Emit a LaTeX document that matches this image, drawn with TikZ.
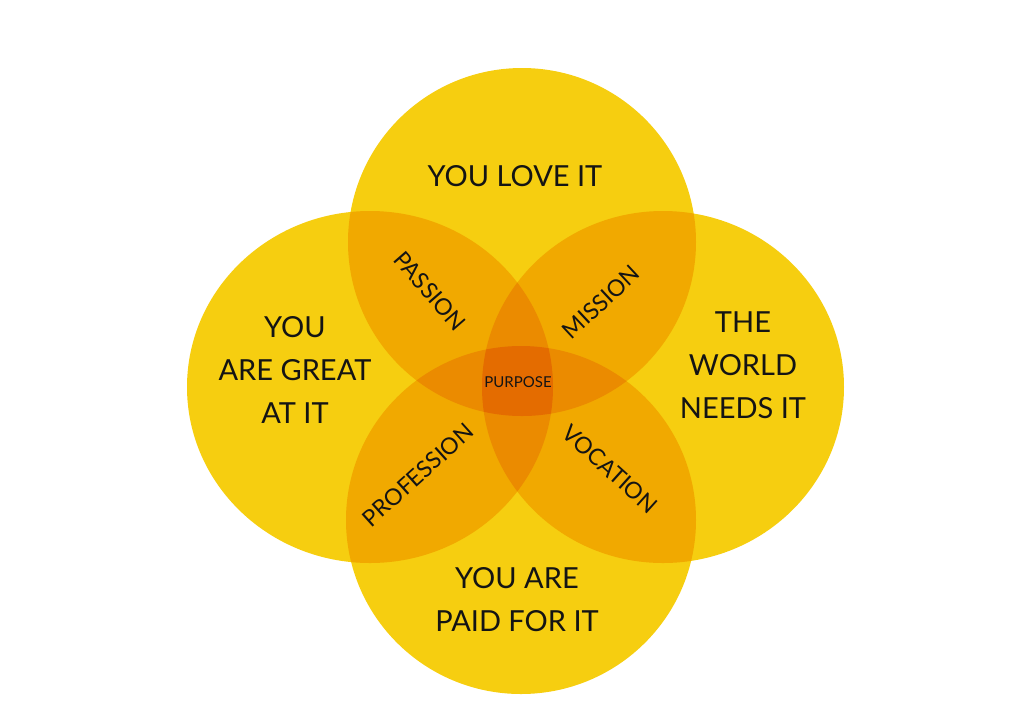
\documentclass[tikz,border=0pt]{standalone}
\usepackage{fontspec}
\setmainfont{Lato}
\usetikzlibrary{positioning}
\definecolor{sun}{HTML}{F6CE10}
\definecolor{amber}{HTML}{F1A900}
\definecolor{tangerine}{HTML}{EB8B00}
\definecolor{ember}{HTML}{E46C00}
\tikzset{bigword/.style={font=\fontsize{14.5}{21.5}\selectfont,align=center,inner sep=0pt,text=black!92},
  lensword/.style={font=\fontsize{11.5}{13}\selectfont,inner sep=0pt,text=black!92},
  coreword/.style={font=\fontsize{7.5}{9}\selectfont,inner sep=0pt,text=black!92}}
\begin{document}
\begin{tikzpicture}[x=0.5pt,y=-0.5pt]
\useasboundingbox (0,0) rectangle (1024,720);
\coordinate (T) at (522,242); \coordinate (L) at (370,387);
\coordinate (R) at (663,387); \coordinate (B) at (521,520);
\def\lobeT{(T) ellipse [x radius=174,y radius=174]}
\def\lobeL{(L) ellipse [x radius=183,y radius=176]}
\def\lobeR{(R) ellipse [x radius=181,y radius=176]}
\def\lobeB{(B) ellipse [x radius=175,y radius=174]}
% one layer
\fill[sun] \lobeT \lobeL \lobeR \lobeB;
% two layers
\foreach \pp/\qq in {\lobeT/\lobeL,\lobeT/\lobeR,\lobeT/\lobeB,\lobeL/\lobeR,\lobeL/\lobeB,\lobeR/\lobeB}
 {\begin{scope}\clip \pp; \fill[amber] \qq;\end{scope}}
% three layers
\foreach \pp/\qq/\rr in {\lobeT/\lobeL/\lobeR,\lobeT/\lobeL/\lobeB,\lobeT/\lobeR/\lobeB,\lobeL/\lobeR/\lobeB}
 {\begin{scope}\clip \pp; \clip \qq; \fill[tangerine] \rr;\end{scope}}
% all four
\begin{scope}\clip \lobeT; \clip \lobeL; \clip \lobeR; \fill[ember] \lobeB;\end{scope}
\node[bigword] (love) at (515,176) {YOU LOVE IT};
\node[bigword] (great) at (295,370) {YOU\\ARE GREAT\\AT IT};
\node[bigword] (world) at (743,365) {THE\\WORLD\\NEEDS IT};
\node[bigword] (paid) at (517,600) {YOU ARE\\PAID FOR IT};
\node[lensword,rotate=-49] (passion) at (430,291) {PASSION};
\node[lensword,rotate=43] (mission) at (601,302) {MISSION};
\node[lensword,rotate=42] (profession) at (418,475) {PROFESSION};
\node[lensword,rotate=-42] (vocation) at (610,469) {VOCATION};
\node[coreword] (purpose) at (518,382) {PURPOSE};
\end{tikzpicture}
\end{document}
